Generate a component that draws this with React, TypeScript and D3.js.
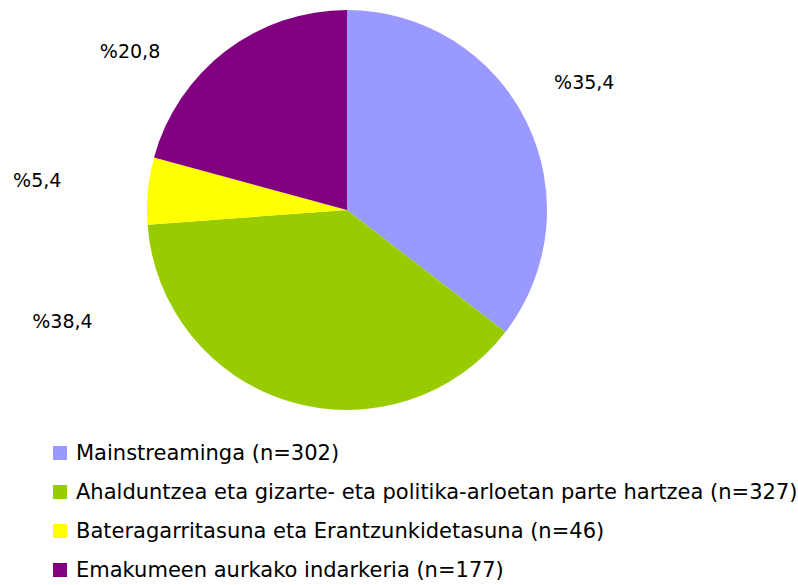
import React, { useEffect, useRef } from "react";
import * as d3 from "d3";

const categories = [
  "Mainstreaminga (n=302)",
  "Ahalduntzea eta gizarte- eta politika-arloetan parte hartzea (n=327)",
  "Bateragarritasuna eta Erantzunkidetasuna (n=46)",
  "Emakumeen aurkako indarkeria (n=177)",
];
const counts = [302, 327, 46, 177];
const percentLabels = ["%35,4", "%38,4", "%5,4", "%20,8"];
const colors = ["#9999FF", "#99CC00", "#FFFF00", "#800080"];

// layout (label nudges relative to the outer-arc centroid)
const labelOffsets: [number, number][] = [
  [-5, -9],
  [-207, -148],
  [-41, -4],
  [-53, 55],
];

const W = 798;
const H = 585;
const CX = 347;
const CY = 210;
const R = 200;
const LABEL_R = 270;

export default function App() {
  const ref = useRef<SVGSVGElement>(null);

  useEffect(() => {
    const svg = d3.select(ref.current);
    svg.selectAll("*").remove();

    const pie = d3
      .pie<number>()
      .sort(null)
      .value((d) => d)
      .startAngle(0)
      .endAngle(2 * Math.PI);
    const arcs = pie(counts);
    const arc = d3.arc<d3.PieArcDatum<number>>().innerRadius(0).outerRadius(R);
    const labelArc = d3
      .arc<d3.PieArcDatum<number>>()
      .innerRadius(LABEL_R)
      .outerRadius(LABEL_R);

    const g = svg.append("g").attr("transform", `translate(${CX},${CY})`);
    g.selectAll("path")
      .data(arcs)
      .join("path")
      .attr("d", arc)
      .attr("fill", (_, i) => colors[i]);

    g.selectAll("text")
      .data(arcs)
      .join("text")
      .attr("x", (d, i) => labelArc.centroid(d)[0] + labelOffsets[i][0])
      .attr("y", (d, i) => labelArc.centroid(d)[1] + labelOffsets[i][1])
      .attr("text-anchor", "middle")
      .attr("dominant-baseline", "central")
      .attr("font-family", "'DejaVu Sans', sans-serif")
      .attr("font-size", 19)
      .attr("fill", "#000")
      .text((_, i) => percentLabels[i]);

    const legendY = d3
      .scalePoint<string>()
      .domain(categories)
      .range([453, 570]);

    const lg = svg
      .append("g")
      .selectAll("g")
      .data(categories)
      .join("g")
      .attr("transform", (d) => `translate(0,${legendY(d)})`);
    lg.append("rect")
      .attr("x", 53)
      .attr("y", -7)
      .attr("width", 14)
      .attr("height", 14)
      .attr("fill", (_, i) => colors[i]);
    lg.append("text")
      .attr("x", 76)
      .attr("y", 0)
      .attr("dominant-baseline", "central")
      .attr("font-family", "'DejaVu Sans', sans-serif")
      .attr("font-size", 21)
      .attr("fill", "#000")
      .text((d) => d);
  }, []);

  return (
    <svg
      ref={ref}
      width={W}
      height={H}
      style={{ position: "absolute", left: 0, top: 0, background: "#fff" }}
    />
  );
}
